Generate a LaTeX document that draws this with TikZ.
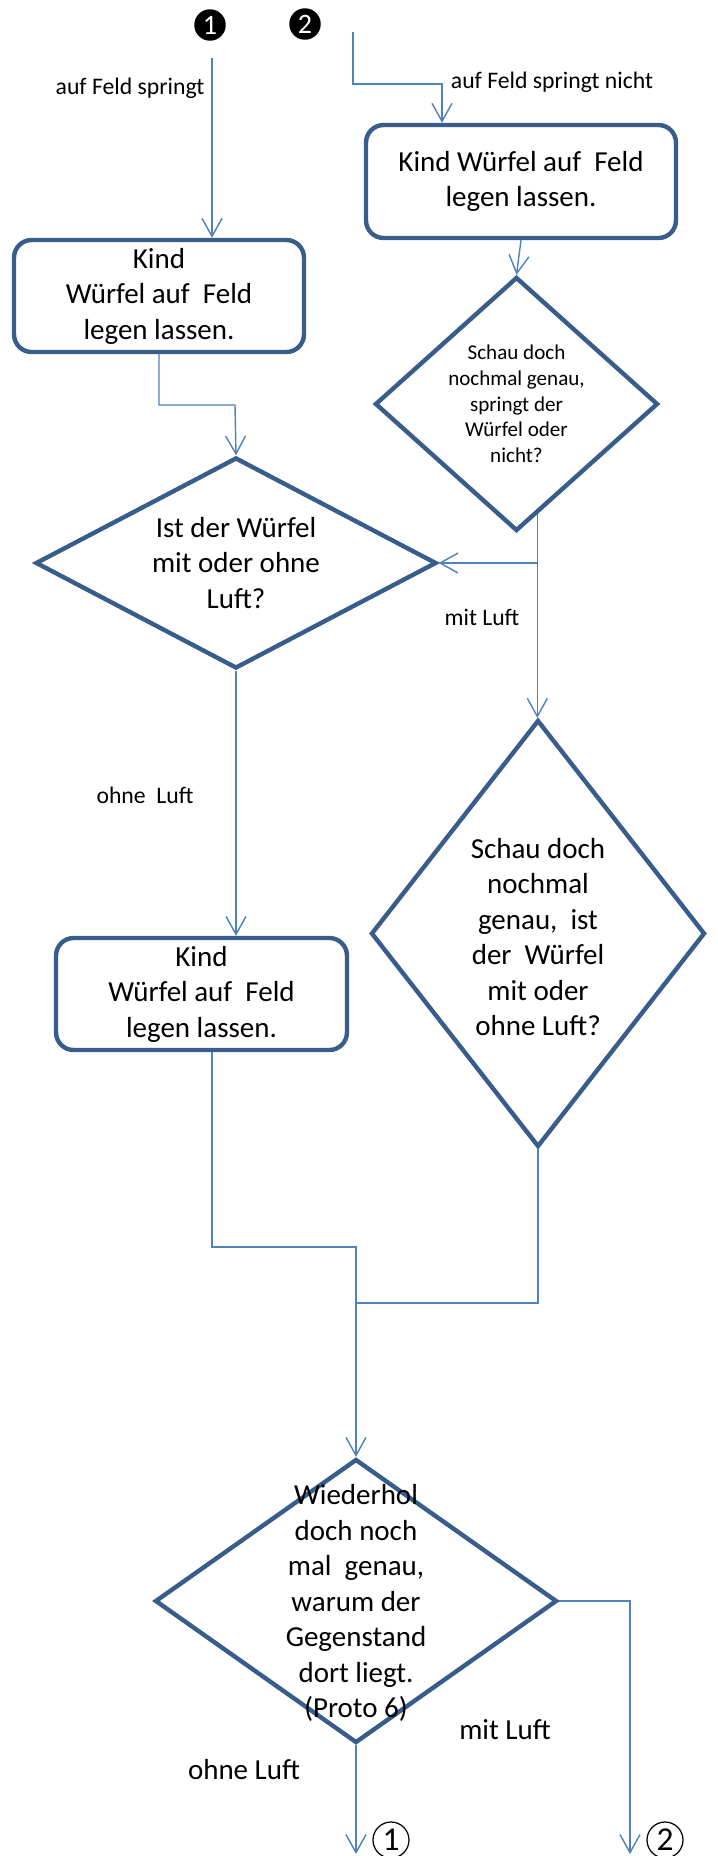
\documentclass[tikz,border=0pt]{standalone}
\usepackage{fontspec}
\setmainfont{Carlito}
\usetikzlibrary{shapes.geometric,arrows.meta,calc,positioning}

\definecolor{linkblue}{HTML}{4F81BD}
\definecolor{edgeblue}{HTML}{385D8A}

\begin{document}
\begin{tikzpicture}[x=0.02cm, y=-0.02cm,
 actbox/.style={draw=edgeblue, line width=2.5pt, rounded corners=10pt, align=center, inner sep=0pt, font=\fontsize{16.5}{20.2}\selectfont},
 decide/.style={draw=edgeblue, line width=2.5pt, diamond, inner sep=0pt},
 dtext/.style={align=center, font=\fontsize{16.5}{20.2}\selectfont},
 flow/.style={draw=linkblue, line width=0.8pt, -{Straight Barb[length=3.6mm,width=4mm]}},
 mergeline/.style={draw=linkblue, line width=0.8pt},
 lbl/.style={font=\fontsize{13.5}{16}\selectfont},
 bignum/.style={circle, fill=black, text=white, inner sep=0pt, minimum size=0.63cm, font=\fontsize{16}{16}\selectfont},
 endnum/.style={circle, draw=black, line width=0.7pt, inner sep=0pt, minimum size=0.72cm, font=\fontsize{19}{19}\selectfont}]
 \path[use as bounding box, fill=white] (0,0) rectangle (717,1856);

 % entry points
 \node[bignum] (n1) at (210,25) {1};
 \node[bignum] (n2) at (305,24) {2};
 \coordinate (s1) at (212,58);
 \coordinate (s2) at (353,32);
 \coordinate (b2) at (442,84);

 % boxes
 \node[actbox, minimum width=6.2cm, minimum height=2.26cm] (kindR) at (521,181.5) {Kind Würfel auf~~Feld\\legen lassen.};
 \node[actbox, minimum width=5.8cm, minimum height=2.24cm] (kindL) at (159,296) {Kind\\Würfel auf~~Feld\\legen lassen.};
 \node[actbox, minimum width=5.82cm, minimum height=2.24cm] (kindL2) at (201.5,994) {Kind\\Würfel auf~~Feld\\legen lassen.};

 % decisions
 \node[decide, minimum width=5.66cm, minimum height=5.08cm] (decR) at (516.5,404) {};
 \node[align=center, font=\fontsize{12}{14.6}\selectfont] (decRtxt) at (decR) {Schau doch\\nochmal genau,\\springt der\\Würfel oder\\nicht?};
 \node[decide, minimum width=8.02cm, minimum height=4.22cm] (decL) at (236,563) {};
 \node[dtext] (decLtxt) at (decL) {Ist der Würfel\\mit oder ohne\\Luft?};
 \node[decide, minimum width=6.68cm, minimum height=8.54cm] (decR2) at (538,933.5) {};
 \node[dtext] (decR2txt) at (538,937) {Schau doch\\nochmal\\genau,~~ist\\der~~Würfel\\mit oder\\ohne Luft?};
 \node[decide, minimum width=8.04cm, minimum height=5.68cm] (decB) at (356,1601) {};
 \node[dtext] (decBtxt) at (356,1603) {Wiederhol\\doch noch\\mal~~genau,\\warum der\\Gegenstand\\dort liegt.\\(Proto 6)};

 % connectors
 \draw[flow] (s1) -- (s1 |- kindL.north);
 \draw[flow] (s2) |- (b2) -- (b2 |- kindR.north);
 \coordinate (k1) at (235,405);
 \draw[flow] (kindL.south) |- (k1) -- (decL.north);
 \draw[flow] (kindR.south) -- (decR.north);
 \coordinate (r1) at ($(decR.south)!0.145!(decR.east)$);
 \draw[flow] (r1) -- (r1 |- decR2.north);
 \draw[flow] (r1 |- decL.east) -- (decL.east);
 \draw[flow] (decL.south) -- (decL.south |- kindL2.north);
 \coordinate (m1) at (212,1247);
 \coordinate (m2) at (356,1303);
 \draw[flow] (m1 |- kindL2.south) -- (m1) -| (decB.north);
 \draw[mergeline] (decR2.south) |- (m2);
 \coordinate (e1) at (356,1854);
 \coordinate (e2) at (630,1854);
 \draw[flow] (decB.south) -- (e1);
 \draw[flow] (decB.east) -| (e2);

 % labels
 \node[lbl] (l1) at (130,88) {auf Feld springt};
 \node[lbl] (l2) at (552,82) {auf Feld springt nicht};
 \node[lbl] (l3) at (482,617) {mit Luft};
 \node[lbl] (l4) at (145,795) {ohne~~Luft};
 \node[dtext] (l5) at (505,1730) {mit Luft};
 \node[dtext] (l6) at (244,1770) {ohne Luft};
 \node[endnum] (o1) at (391,1840) {1};
 \node[endnum] (o2) at (665,1840) {2};
\end{tikzpicture}
\end{document}
